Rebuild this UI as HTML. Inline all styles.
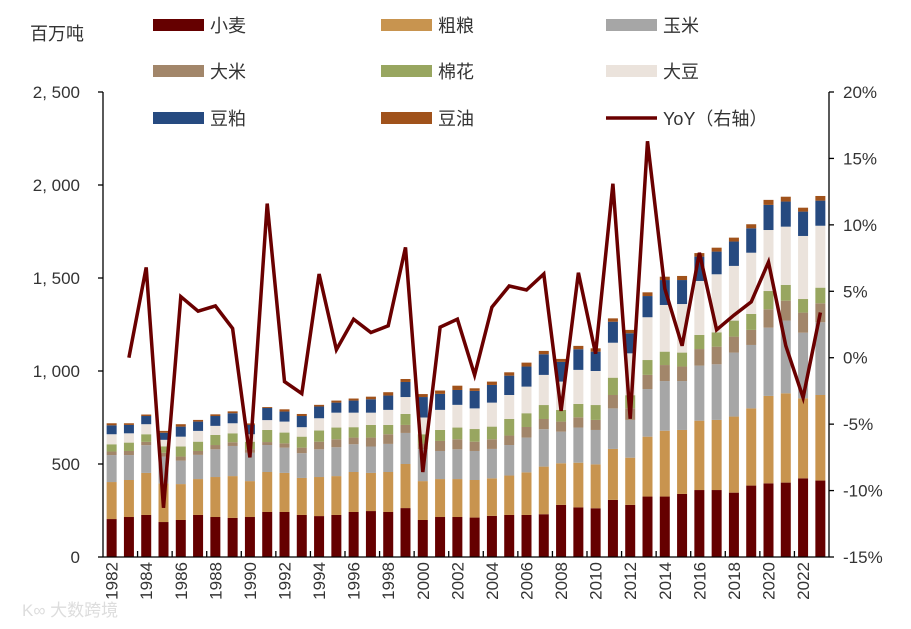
<!DOCTYPE html>
<html><head><meta charset="utf-8"><style>
body{margin:0;background:#fff;}
svg{display:block;font-family:"Liberation Sans","Noto Sans CJK SC",sans-serif;}
</style></head><body>
<svg id="chart" width="911" height="629" viewBox="0 0 911 629" xmlns="http://www.w3.org/2000/svg">
<text x="30" y="40" font-size="18" fill="#333">百万吨</text>
<g id="legend"></g>
<g id="bars"></g>
<g id="axes"></g>
<g id="line"></g>
<text x="22" y="616" font-size="17" fill="#ddd">K∞ 大数跨境</text>
</svg>
<script>
const years=[1982,1983,1984,1985,1986,1987,1988,1989,1990,1991,1992,1993,1994,1995,1996,1997,1998,1999,2000,2001,2002,2003,2004,2005,2006,2007,2008,2009,2010,2011,2012,2013,2014,2015,2016,2017,2018,2019,2020,2021,2022,2023];
const wheat=[204,215,226,188,199,226,215,210,215,242,242,226,220,226,242,247,242,263,199,215,215,212,221,226,226,230,280,267,262,307,280,325,325,339,360,360,346,384,396,400,423,411];
const coarse=[199,199,226,207,193,193,215,225,193,215,210,199,210,209,215,205,215,237,209,204,204,202,202,212,229,256,224,240,236,274,254,322,354,344,373,377,409,415,470,480,430,460];
const corn=[145,134,149,145,126,130,149,162,152,145,136,133,149,155,149,142,151,167,172,151,160,156,158,164,187,201,170,189,185,218,203,256,267,263,296,299,344,341,367,391,353,391];
const rice=[19,22,18,20,22,21,23,20,20,16,23,30,41,43,36,48,52,43,30,54,54,50,52,51,57,55,54,55,54,72,63,76,86,78,89,95,86,81,99,107,108,102];
const cotton=[39,45,41,35,54,50,54,48,40,65,58,59,60,63,56,68,50,59,50,59,63,68,68,89,74,75,63,72,80,93,70,80,72,75,76,77,86,86,98,85,73,84];
const soy=[54,50,54,35,53,58,49,54,40,53,59,51,66,80,78,66,81,91,90,108,122,111,129,129,143,162,152,183,183,188,225,230,251,261,290,312,294,329,328,313,339,333];
const meal=[48,45,44,38,54,50,53,54,50,65,54,60,63,54,65,72,77,81,110,86,80,94,95,104,108,111,106,111,104,113,108,114,134,129,131,122,131,131,135,135,131,135];
const oil=[11,9,8,10,13,9,9,10,8,5,12,11,9,11,11,14,18,16,16,18,23,14,18,18,21,18,16,18,18,18,18,20,18,22,19,21,21,22,27,26,21,25];
const yoy=[null,0,6.8,-11.3,4.6,3.5,3.9,2.2,-7.5,11.6,-1.8,-2.7,6.3,0.6,2.9,1.9,2.4,8.3,-8.6,2.3,2.9,-1.3,3.8,5.4,5.1,6.3,-4.0,6.4,0.3,13.1,-4.6,16.3,5.2,0.9,7.9,2.1,3.2,4.2,7.2,0.9,-3.0,3.4];
const leftTicks=[0,500,1000,1500,2000,2500];
const leftTickLabels=["0","500","1, 000","1, 500","2, 000","2, 500"];
const rightTicks=[-15,-10,-5,0,5,10,15,20];
const rightTickLabels=["-15%","-10%","-5%","0%","5%","10%","15%","20%"];
const seriesNames=["小麦","粗粮","玉米","大米","棉花","大豆","豆粕","豆油"];
const seriesKeys=["wheat","coarse-grain","corn","rice","cotton","soybean","soy-meal","soy-oil"];
const seriesColors=["#650000","#c8944f","#a6a6a6","#a2866a","#98a660","#ebe3dc","#264a80","#a0521b"];
const series=[wheat,coarse,corn,rice,cotton,soy,meal,oil];

const NS="http://www.w3.org/2000/svg";
const X0=103,X1=829,Y0=557,Y1=92;
const step=(X1-X0)/years.length;
const xc=i=>X0+step*(i+0.5);
const yL=v=>Y0-(v/2500)*(Y0-Y1);
const yR=p=>Y0-((p+15)/35)*(Y0-Y1);
function mk(tag,attrs,parent){const e=document.createElementNS(NS,tag);for(const k in attrs)e.setAttribute(k,attrs[k]);parent.appendChild(e);return e;}

const gb=document.getElementById('bars');
years.forEach((yr,i)=>{
  let cum=0;
  series.forEach((s,j)=>{
    const v=s[i];
    const r=mk('rect',{x:xc(i)-5,y:yL(cum+v),width:10,height:yL(cum)-yL(cum+v),fill:seriesColors[j]},gb);
    
    
    cum+=v;
  });
});

const ga=document.getElementById('axes');
const st={stroke:'#000','stroke-width':1.3};
let e=mk('line',Object.assign({x1:X0,y1:Y1,x2:X0,y2:Y0},st),ga);

e=mk('line',Object.assign({x1:X1,y1:Y1,x2:X1,y2:Y0},st),ga);

e=mk('line',Object.assign({x1:X0,y1:Y0,x2:X1,y2:Y0},st),ga);

leftTicks.forEach((v,i)=>{
  mk('line',Object.assign({x1:X0-5,y1:yL(v),x2:X0,y2:yL(v)},st),ga);
  const t=mk('text',{x:80,y:yL(v)+6,'font-size':17,'text-anchor':'end',fill:'#333'},ga);
  t.textContent=leftTickLabels[i];
  
  
});
rightTicks.forEach((v,i)=>{
  mk('line',Object.assign({x1:X1,y1:yR(v),x2:X1+5,y2:yR(v)},st),ga);
  const t=mk('text',{x:843,y:yR(v)+6,'font-size':17,fill:'#333'},ga);
  t.textContent=rightTickLabels[i];
  
  
});
years.forEach((yr,i)=>{
  if(i%2===0){
    const bx=X0+step*i;
    if(i>0) mk('line',Object.assign({x1:bx,y1:Y0,x2:bx,y2:Y0-6},st),ga);
    const t=mk('text',{x:0,y:0,'font-size':17,'text-anchor':'end',fill:'#333',transform:`translate(${xc(i)+6},562) rotate(-90)`},ga);
    t.textContent=yr;
    
    
  }
});

const gl=document.getElementById('line');
let d='';
yoy.forEach((p,i)=>{if(p===null)return;d+=(d?'L':'M')+xc(i).toFixed(1)+','+yR(p).toFixed(1);});
const pl=mk('path',{d:d,fill:'none',stroke:'#6a0000','stroke-width':3.5,'stroke-linejoin':'miter'},gl);



const lg=document.getElementById('legend');
const lx=[153,381,606], ly=[25,71,118];
const names=seriesNames.concat(["YoY（右轴）"]);
names.forEach((n,k)=>{
  const cx=lx[k%3], cy=ly[Math.floor(k/3)];
  const g=mk('g',{},lg);
  
  
  if(k<8){mk('rect',{x:cx,y:cy-6,width:51,height:12,fill:seriesColors[k]},g);}
  else{mk('line',{x1:cx,y1:cy,x2:cx+51,y2:cy,stroke:'#6a0000','stroke-width':3.5},g);}
  const t=mk('text',{x:cx+57,y:cy+7,'font-size':18,fill:'#333'},g);
  t.textContent=n;
});
</script>
</body></html>
